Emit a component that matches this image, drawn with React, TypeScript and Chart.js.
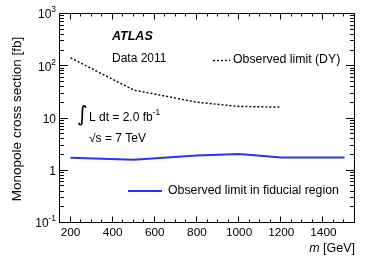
import React, { useEffect, useRef } from "react";
import { Chart, registerables } from "chart.js";

Chart.register(...registerables);

// ---- data ----
const massDY = [200, 500, 800, 1000, 1200];
const limitDY = [145, 35, 20.5, 17, 16.5];
const massFid = [200, 500, 800, 1000, 1200, 1500];
const limitFid = [1.78, 1.62, 1.95, 2.1, 1.8, 1.8];

const xTickLabels = [200, 400, 600, 800, 1000, 1200, 1400];
const yTickValues = [0.1, 1, 10, 100, 1000];
const yTickBase = ["10", "1", "10", "10", "10"];
const yTickExp = ["-1", "", "", "2", "3"];

const legendDY = "Observed limit (DY)";
const legendFid = "Observed limit in fiducial region";
const yTitle = "Monopole cross section [fb]";

const FONT = "'Liberation Sans', Arial, Helvetica, sans-serif";
const BLUE = "#2f2fff";

function drawSup(ctx: CanvasRenderingContext2D, base: string, exp: string, x: number, y: number, size: number, align: "left" | "right") {
  ctx.textBaseline = "middle";
  ctx.textAlign = "left";
  const baseFont = `${size}px ${FONT}`;
  const supSize = size * 0.7;
  const supFont = `${supSize}px ${FONT}`;
  ctx.font = baseFont;
  const bw = ctx.measureText(base).width;
  ctx.font = supFont;
  const sw = exp ? ctx.measureText(exp).width : 0;
  const total = bw + sw;
  const x0 = align === "right" ? x - total : x;
  ctx.font = baseFont;
  ctx.fillText(base, x0, y);
  if (exp) {
    ctx.font = supFont;
    ctx.fillText(exp, x0 + bw, y - size * 0.42);
  }
}

const framePlugin = {
  id: "rootFrame",
  afterDraw(chart: any) {
    const { ctx, chartArea, scales } = chart;
    const { left, right, top, bottom } = chartArea;
    const xs = scales.x;
    const ys = scales.y;
    const L = Math.round(left) - 0.5;
    const R = Math.round(right) - 0.5;
    const T = Math.round(top) - 0.5;
    const B = Math.round(bottom) - 0.5;
    ctx.save();
    ctx.strokeStyle = "#000";
    ctx.fillStyle = "#000";
    ctx.lineWidth = 1;
    ctx.strokeRect(L, T, R - L, B - T);

    // x ticks
    ctx.beginPath();
    for (let v = 150; v <= 1550; v += 50) {
      const px = Math.round(xs.getPixelForValue(v)) - 0.5;
      if (px <= L || px >= R) continue;
      const len = v % 200 === 0 ? 6 : 3;
      ctx.moveTo(px, B);
      ctx.lineTo(px, B - len);
      ctx.moveTo(px, T);
      ctx.lineTo(px, T + len);
    }
    // y ticks
    for (let d = 0.1; d < 1500; d *= 10) {
      for (let k = 1; k <= 9; k++) {
        const v = k * d;
        if (v > 1000 * 1.001) continue;
        const py = Math.round(ys.getPixelForValue(v)) - 0.5;
        const len = k === 1 ? 8.5 : 4.5;
        ctx.moveTo(L, py);
        ctx.lineTo(L + len, py);
        ctx.moveTo(R, py);
        ctx.lineTo(R - len, py);
      }
    }
    ctx.stroke();

    // y tick labels
    yTickValues.forEach((v, i) => {
      const py = ys.getPixelForValue(v);
      drawSup(ctx, yTickBase[i], yTickExp[i], left - 4, py + 1, 12, "right");
    });

    // texts
    ctx.textBaseline = "middle";
    ctx.textAlign = "left";
    ctx.font = `italic bold 12.5px ${FONT}`;
    ctx.fillText("ATLAS", 112, 37);
    ctx.font = `12px ${FONT}`;
    ctx.fillText("Data 2011", 112, 59);

    // integral
    ctx.font = `21px 'DejaVu Sans', ${FONT}`;
    ctx.fillText("\u222B", 77, 116);
    drawSup(ctx, "L dt = 2.0 fb", "-1", 89, 118, 12, "left");
    ctx.font = `12px ${FONT}`;
    ctx.textBaseline = "middle";
    ctx.fillText("\u221As = 7 TeV", 89, 139);

    // legend DY
    ctx.save();
    ctx.setLineDash([2, 2]);
    ctx.lineWidth = 1.3;
    ctx.beginPath();
    ctx.moveTo(213, 60.5);
    ctx.lineTo(230, 60.5);
    ctx.stroke();
    ctx.restore();
    ctx.font = `12.3px ${FONT}`;
    ctx.fillText(legendDY, 233, 60);

    // legend fid
    ctx.save();
    ctx.strokeStyle = BLUE;
    ctx.lineWidth = 2;
    ctx.beginPath();
    ctx.moveTo(128, 191);
    ctx.lineTo(162, 191);
    ctx.stroke();
    ctx.restore();
    ctx.fillText(legendFid, 168, 191);

    // x title
    ctx.textAlign = "right";
    ctx.font = `12.5px ${FONT}`;
    const gev = " [GeV]";
    const gw = ctx.measureText(gev).width;
    ctx.fillText(gev, 355, 249);
    ctx.font = `italic 12.5px ${FONT}`;
    ctx.fillText("m", 355 - gw, 249);

    // y title
    ctx.save();
    ctx.translate(17, 119);
    ctx.rotate(-Math.PI / 2);
    ctx.textAlign = "center";
    ctx.font = `13.5px ${FONT}`;
    ctx.fillText(yTitle, 0, 0);
    ctx.restore();

    ctx.restore();
  },
};

export default function App() {
  const ref = useRef<HTMLCanvasElement | null>(null);
  useEffect(() => {
    document.body.style.margin = "0";
    const canvas = ref.current!;
    const chart = new Chart(canvas, {
      type: "line",
      data: {
        datasets: [
          {
            label: legendDY,
            data: massDY.map((m, i) => ({ x: m, y: limitDY[i] })),
            borderColor: "#000",
            borderWidth: 1.4,
            borderDash: [2, 2],
            pointRadius: 0,
            tension: 0,
            fill: false,
          },
          {
            label: legendFid,
            data: massFid.map((m, i) => ({ x: m, y: limitFid[i] })),
            borderColor: BLUE,
            borderWidth: 2,
            pointRadius: 0,
            tension: 0,
            fill: false,
          },
        ],
      },
      options: {
        responsive: false,
        animation: false,
        devicePixelRatio: 1,
        layout: { padding: { top: 14, right: 19, bottom: 0, left: 0 } },
        plugins: { legend: { display: false }, tooltip: { enabled: false } },
        scales: {
          x: {
            type: "linear",
            min: 150,
            max: 1550,
            grid: { display: false, drawTicks: false },
            border: { display: false },
            ticks: {
              color: "#000",
              font: { family: FONT, size: 11.8 },
              padding: 3,
              maxRotation: 0,
              autoSkip: false,
              callback: (v: any) => String(v),
            },
            afterBuildTicks: (s: any) => {
              s.ticks = xTickLabels.map((v) => ({ value: v }));
            },
            afterFit: (s: any) => {
              s.height = 43;
            },
          },
          y: {
            type: "logarithmic",
            min: 0.1,
            max: 1000,
            grid: { display: false, drawTicks: false },
            border: { display: false },
            ticks: { display: false },
            afterFit: (s: any) => {
              s.width = 60;
            },
          },
        },
      },
      plugins: [framePlugin],
    } as any);
    return () => chart.destroy();
  }, []);
  return (
    <div style={{ position: "absolute", left: 0, top: 0, width: 374, height: 266, background: "#fff" }}>
      <canvas ref={ref} width={374} height={266} style={{ display: "block" }} />
    </div>
  );
}
